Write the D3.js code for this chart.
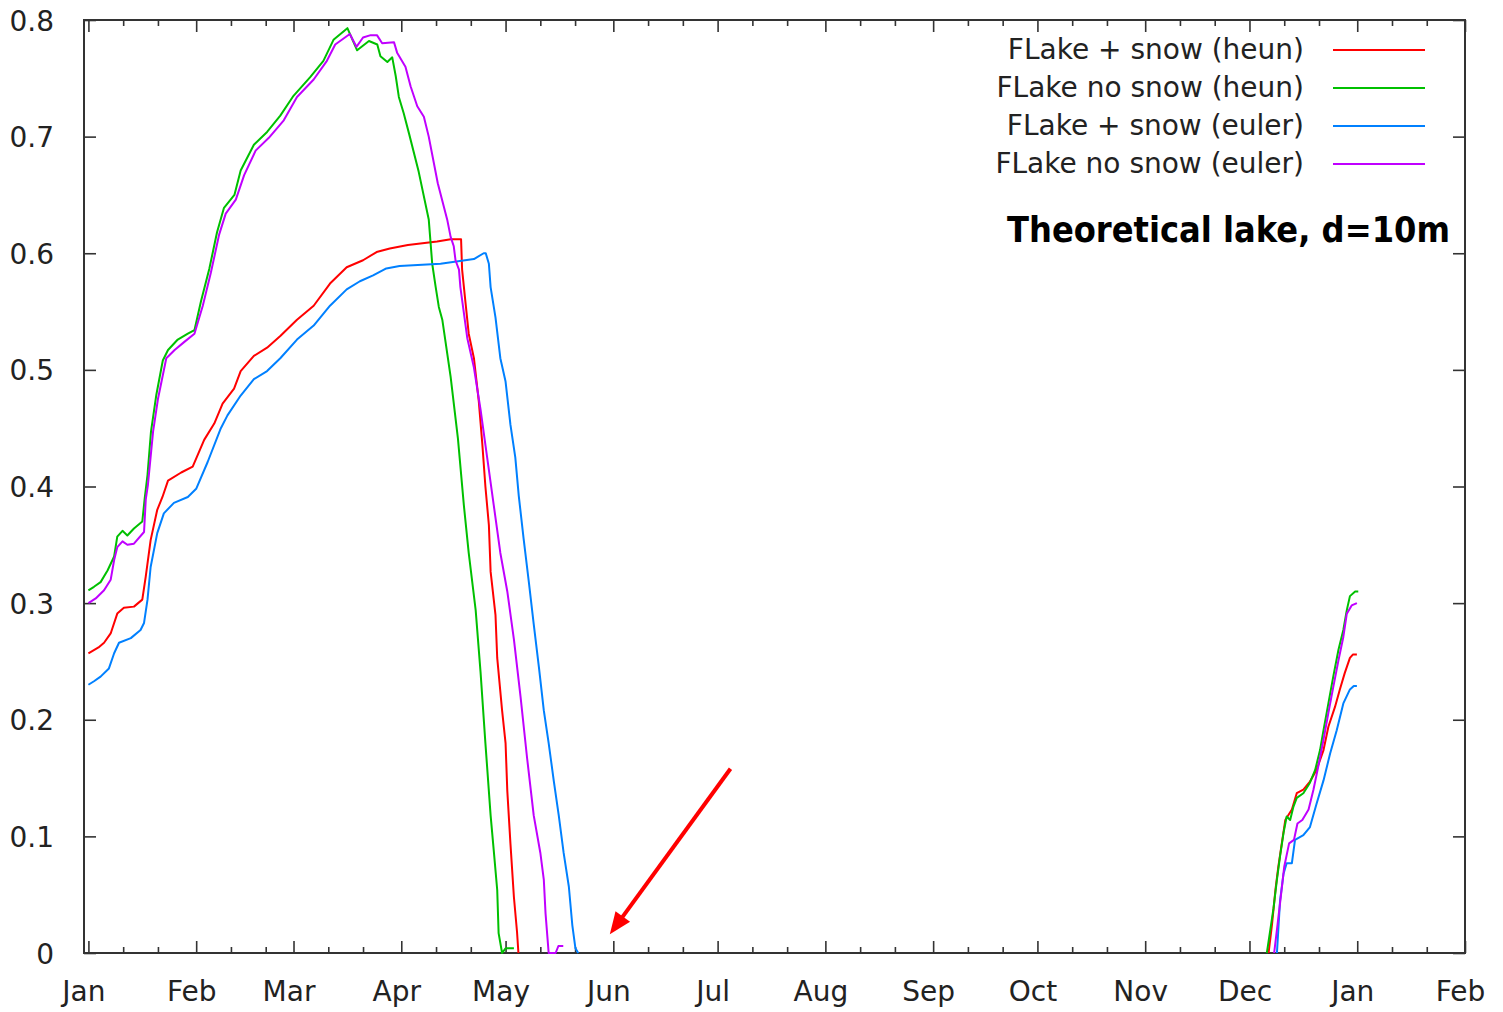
<!DOCTYPE html>
<html>
<head>
<meta charset="utf-8">
<script src="https://cdn.jsdelivr.net/npm/d3@7"></script>
<style>
body { margin: 0; background: #fff; }
text { font-family: "DejaVu Sans", sans-serif; }
</style>
</head>
<body>
<svg id="chart" width="1503" height="1012"></svg>
<script>
// ice thickness (m); first number is day counted from Jan 1 (day 0)
var redHeunSpring = [[0,0.257],[2.9,0.262],[4.5,0.266],[6.4,0.274],[8.3,0.291],[10.2,0.296],[13.1,0.297],[15.5,0.303],
  [16.5,0.323],[17.9,0.354],[19.8,0.380],[21.3,0.391],[22.9,0.405],[26.7,0.412],[30,0.417],[33.3,0.440],[36.2,0.454],
  [38.6,0.471],[41.9,0.484],[43.8,0.499],[47.6,0.512],[51.4,0.519],[55.2,0.529],[60,0.543],[64.8,0.555],[69.5,0.574],
  [74.3,0.588],[79,0.594],[82.9,0.601],[86.7,0.604],[91.9,0.607],[100.3,0.610],[104.2,0.612],[107.2,0.612],[107.5,0.586],
  [108.5,0.557],[109.4,0.531],[110.9,0.510],[112.3,0.473],[113.3,0.437],[114.2,0.400],[115.2,0.367],[115.7,0.327],
  [117.1,0.290],[117.6,0.253],[119,0.208],[120,0.180],[120.5,0.139],[121.4,0.094],[122.4,0.048],[123.3,0.018],[123.7,0]];
var redHeunWinter = [[339.5,0],[340.5,0.025],[341.5,0.055],[342.3,0.074],[344.3,0.114],[346.2,0.123],[347.6,0.137],
  [349.5,0.140],[351.4,0.147],[353.3,0.157],[355.3,0.174],[356.7,0.194],[358.6,0.211],[360,0.226],[361.4,0.240],
  [362.9,0.253],[363.8,0.256],[364.9,0.256]];

var greenHeunSpring = [[0,0.311],[1.6,0.314],[3.5,0.318],[5.5,0.328],[7.4,0.340],[8.3,0.357],[9.8,0.362],[11.2,0.358],
  [13.1,0.364],[15.5,0.370],[16.2,0.390],[17,0.410],[18,0.447],[19.5,0.478],[21.4,0.508],[22.9,0.517],[25.7,0.526],
  [28.6,0.531],[30.5,0.534],[32.4,0.559],[34.8,0.587],[37,0.618],[39,0.639],[42,0.650],[43.8,0.671],[47.6,0.693],
  [51.4,0.704],[55.2,0.718],[59,0.735],[63.8,0.751],[67.6,0.765],[70.5,0.783],[74.5,0.793],[77.3,0.774],[80.7,0.782],
  [83.1,0.779],[84,0.769],[86,0.764],[87.4,0.768],[88.4,0.752],[89.3,0.734],[90.7,0.720],[92.2,0.703],[95,0.670],
  [97.9,0.629],[98.9,0.591],[99.9,0.571],[100.8,0.554],[101.8,0.543],[104.2,0.494],[106.3,0.441],[108,0.384],
  [109.4,0.343],[111.4,0.294],[112.8,0.241],[114.2,0.180],[115.7,0.118],[116.6,0.088],[117.6,0.054],[118,0.017],
  [119,0],[120,0.004],[122.4,0.004]];
var greenHeunWinter = [[339,0],[340,0.020],[340.9,0.038],[341.9,0.063],[342.8,0.083],[343.8,0.103],[344.7,0.117],
  [345.7,0.114],[346.6,0.125],[347.6,0.133],[349.5,0.137],[351.4,0.146],[352.9,0.157],[354.3,0.174],[355.3,0.191],
  [356.7,0.214],[358.1,0.237],[359.6,0.260],[361,0.277],[362,0.294],[362.9,0.306],[364.4,0.310],[365.3,0.310]];

var blueEulerSpring = [[0,0.230],[1.6,0.233],[3.5,0.237],[5.9,0.244],[7.4,0.257],[8.8,0.266],[12.2,0.270],[15,0.277],
  [16,0.283],[17,0.303],[17.9,0.331],[19.8,0.360],[21.7,0.377],[24.6,0.386],[28.6,0.391],[31,0.398],[34.3,0.421],
  [38.1,0.450],[40,0.461],[43.8,0.478],[47.6,0.492],[51.4,0.499],[55.2,0.510],[60,0.526],[64.8,0.538],[69.5,0.555],
  [74.3,0.569],[78.1,0.576],[81.9,0.581],[85.7,0.587],[89.5,0.589],[101.3,0.591],[110.9,0.595],[113.7,0.600],
  [114.3,0.600],[115.2,0.591],[115.7,0.571],[117.1,0.545],[118.5,0.510],[120,0.490],[121.4,0.453],[122.8,0.425],
  [123.8,0.392],[125.2,0.355],[126.7,0.318],[128.1,0.282],[129.6,0.245],[131,0.208],[132.4,0.180],[133.9,0.147],
  [135.3,0.118],[136.7,0.086],[138.2,0.057],[139.2,0.024],[140.1,0.004],[140.9,0]];
var blueEulerWinter = [[341.9,0],[342.8,0.045],[343.8,0.068],[344.7,0.077],[346.2,0.077],[347.1,0.097],[349.5,0.101],
  [351.4,0.108],[353.3,0.128],[355.3,0.148],[357.2,0.171],[359.1,0.191],[361,0.214],[362.9,0.226],[364,0.229],
  [364.9,0.229]];

var purpleEulerSpring = [[0,0.300],[2.1,0.304],[4.5,0.311],[6.4,0.320],[7.4,0.337],[8.3,0.348],[9.8,0.353],[11.2,0.350],
  [13.1,0.351],[16,0.361],[16.5,0.389],[17.1,0.401],[18.6,0.447],[20,0.475],[22.4,0.510],[24.8,0.517],[27.6,0.524],
  [30.5,0.531],[32.9,0.555],[35.2,0.583],[37.6,0.616],[39.5,0.634],[42.4,0.646],[44.8,0.667],[48.1,0.688],[51.9,0.699],
  [56.2,0.714],[60,0.734],[64.8,0.749],[68.6,0.765],[71,0.779],[75.2,0.788],[77.1,0.777],[79,0.785],[81.2,0.787],
  [83,0.787],[84.5,0.780],[87.9,0.781],[88.8,0.772],[91.2,0.760],[92.7,0.743],[94.6,0.726],[96.5,0.717],[97.9,0.700],
  [100.5,0.660],[103.2,0.629],[104.2,0.614],[105.1,0.606],[105.6,0.594],[106.6,0.586],[107,0.571],[109,0.527],
  [110.9,0.502],[112.8,0.466],[114.7,0.425],[116.6,0.384],[118.5,0.343],[120.5,0.310],[122.4,0.269],[124.3,0.220],
  [126.2,0.167],[128.1,0.118],[130,0.086],[131,0.063],[131.5,0.034],[132.4,0],[134.4,0],[135.2,0.006],[136.6,0.006]];
var purpleEulerWinter = [[341.1,0],[342.1,0.025],[343,0.048],[344,0.074],[345.4,0.094],[346.8,0.097],[347.8,0.111],
  [349.2,0.114],[351,0.123],[352.4,0.140],[353.8,0.160],[355.3,0.183],[356.7,0.206],[358.1,0.228],[359.6,0.251],
  [361,0.271],[362,0.291],[363.4,0.298],[364.9,0.300]];

var seriesNames = ["FLake + snow (heun)", "FLake no snow (heun)", "FLake + snow (euler)", "FLake no snow (euler)"];
var monthLabels = ["Jan","Feb","Mar","Apr","May","Jun","Jul","Aug","Sep","Oct","Nov","Dec","Jan","Feb"];
var yTicks = [0, 0.1, 0.2, 0.3, 0.4, 0.5, 0.6, 0.7, 0.8];
var titleText = "Theoretical lake, d=10m";
// arrow annotation: from [day, value] to [day, value]
var arrowFrom = [184.7, 0.158], arrowTo = [150, 0.016];

var series = [
  {name: seriesNames[0], parts: [redHeunSpring, redHeunWinter], color: "#ff0000"},
  {name: seriesNames[1], parts: [greenHeunSpring, greenHeunWinter], color: "#00c000"},
  {name: seriesNames[2], parts: [blueEulerSpring, blueEulerWinter], color: "#0080ff"},
  {name: seriesNames[3], parts: [purpleEulerSpring, purpleEulerWinter], color: "#c000ff"}
];

var svg = d3.select("#chart");
var plotL = 84, plotR = 1465, plotT = 20, plotB = 953;
var jan1 = Date.UTC(2010, 0, 1);
function dayDate(d) { return new Date(jan1 + d * 864e5); }
var endDate = new Date(Date.UTC(2011, 1, 1));

var x = d3.scaleUtc().domain([dayDate(-1.27), endDate]).range([plotL, plotR]);
var y = d3.scaleLinear().domain([0, 0.8]).range([plotB, plotT]);

var majors = d3.utcMonth.range(dayDate(0), new Date(endDate.getTime() + 864e5));
var minors = [];
majors.slice(0, -1).forEach(function(m) {
  minors.push(d3.utcDay.offset(m, 10));
  minors.push(d3.utcDay.offset(m, 20));
});

var tickColor = "#333";
function styleAxis(g) {
  g.attr("color", tickColor);
  g.select(".domain").remove();
  g.selectAll(".tick line").attr("stroke-width", 1.6);
  g.selectAll("text").attr("font-size", 28).attr("font-family", "DejaVu Sans").attr("fill", "#222");
}

// bottom
svg.append("g").attr("transform", "translate(0," + plotB + ")")
  .call(d3.axisBottom(x).tickValues(majors).tickSizeInner(-12).tickSizeOuter(0).tickPadding(28)
    .tickFormat(function(d, i) { return monthLabels[i]; }))
  .call(styleAxis)
  .selectAll("text").attr("dx", -5);
svg.append("g").attr("transform", "translate(0," + plotB + ")")
  .call(d3.axisBottom(x).tickValues(minors).tickSizeInner(-6).tickSizeOuter(0).tickFormat(""))
  .call(styleAxis);
// top mirror
svg.append("g").attr("transform", "translate(0," + plotT + ")")
  .call(d3.axisTop(x).tickValues(majors).tickSizeInner(-12).tickSizeOuter(0).tickFormat(""))
  .call(styleAxis);
svg.append("g").attr("transform", "translate(0," + plotT + ")")
  .call(d3.axisTop(x).tickValues(minors).tickSizeInner(-6).tickSizeOuter(0).tickFormat(""))
  .call(styleAxis);
// left
svg.append("g").attr("transform", "translate(" + plotL + ",0)")
  .call(d3.axisLeft(y).tickValues(yTicks).tickSizeInner(-12).tickSizeOuter(0).tickPadding(30)
    .tickFormat(function(d) { return d === 0 ? "0" : d.toFixed(1); }))
  .call(styleAxis)
  .selectAll("text").attr("dy", "0.36em");
// right mirror
svg.append("g").attr("transform", "translate(" + plotR + ",0)")
  .call(d3.axisRight(y).tickValues(yTicks).tickSizeInner(-12).tickSizeOuter(0).tickFormat(""))
  .call(styleAxis);

svg.append("rect")
  .attr("x", plotL).attr("y", plotT).attr("width", plotR - plotL).attr("height", plotB - plotT)
  .attr("fill", "none").attr("stroke", tickColor).attr("stroke-width", 2);

var line = d3.line()
  .x(function(d) { return x(dayDate(d[0])); })
  .y(function(d) { return y(d[1]); });

var plot = svg.append("g");
series.forEach(function(s) {
  s.parts.forEach(function(p) {
    plot.append("path")
      .attr("d", line(p))
      .attr("fill", "none")
      .attr("stroke", s.color)
      .attr("stroke-width", 2)
      .attr("stroke-linejoin", "round");
  });
});

// legend
var leg = svg.append("g");
series.forEach(function(s, i) {
  var ly = 50 + i * 38;
  leg.append("text").attr("x", 1304).attr("y", ly + 9)
    .attr("text-anchor", "end").attr("font-size", 28).attr("fill", "#222")
    .text(s.name);
  leg.append("line").attr("x1", 1333).attr("x2", 1425).attr("y1", ly).attr("y2", ly)
    .attr("stroke", s.color).attr("stroke-width", 2);
});

svg.append("text")
  .attr("x", 1450).attr("y", 242)
  .attr("text-anchor", "end")
  .attr("font-size", 35).attr("font-weight", "bold")
  .attr("font-family", "'Comic Sans MS', 'DejaVu Sans', sans-serif")
  .attr("textLength", 443).attr("lengthAdjust", "spacingAndGlyphs")
  .attr("fill", "#000")
  .text(titleText);

// arrow
var ax0 = x(dayDate(arrowFrom[0])), ay0 = y(arrowFrom[1]);
var ax1 = x(dayDate(arrowTo[0])), ay1 = y(arrowTo[1]);
var len = Math.hypot(ax1 - ax0, ay1 - ay0);
var ux = (ax1 - ax0) / len, uy = (ay1 - ay0) / len;
var nx = -uy, ny = ux;
var headLen = 22, headW = 9;
svg.append("line")
  .attr("x1", ax0).attr("y1", ay0)
  .attr("x2", ax1 - ux * 16).attr("y2", ay1 - uy * 16)
  .attr("stroke", "#ff0000").attr("stroke-width", 4);
svg.append("polygon")
  .attr("points", [
    [ax1, ay1],
    [ax1 - ux * headLen + nx * headW, ay1 - uy * headLen + ny * headW],
    [ax1 - ux * headLen - nx * headW, ay1 - uy * headLen - ny * headW]
  ].map(function(p) { return p.join(","); }).join(" "))
  .attr("fill", "#ff0000");
</script>
</body>
</html>
